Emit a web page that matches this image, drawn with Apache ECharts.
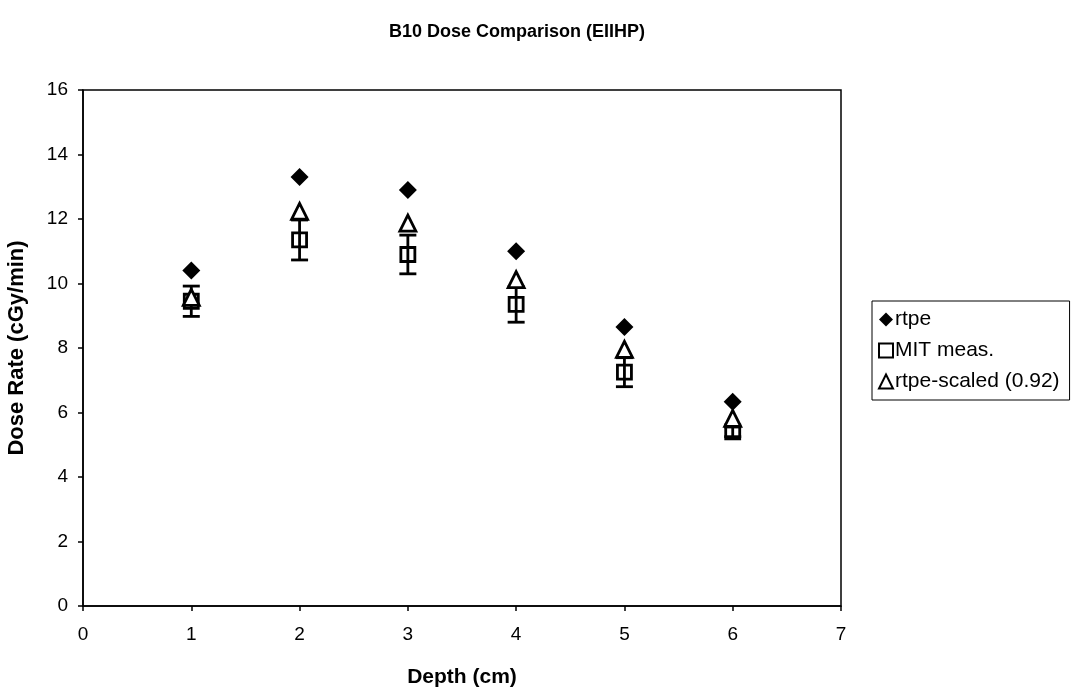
<!DOCTYPE html>
<html>
<head>
<meta charset="utf-8">
<title>B10 Dose Comparison (EIIHP)</title>
<script src="https://cdn.jsdelivr.net/npm/echarts@6/dist/echarts.min.js"></script>
<style>
  html, body { margin: 0; padding: 0; background: #fff; }
  #chart { width: 1072px; height: 692px; }
</style>
</head>
<body>
<div id="chart"></div>
<script>
// Depth positions (cm)
const depths = [1, 2, 3, 4, 5, 6];
// Calculated dose rate (cGy/min)
const rtpe = [10.4, 13.3, 12.9, 11.0, 8.65, 6.33];
// Measured dose rate and its uncertainty (cGy/min)
const mitMeas = [9.45, 11.35, 10.9, 9.35, 7.25, 5.4];
const mitErr = [0.47, 0.62, 0.6, 0.55, 0.45, 0.15];
// Calculated dose rate after scaling
const rtpeScaled = [9.57, 12.24, 11.87, 10.12, 7.96, 5.82];

const pair = (xs, ys) => xs.map((x, i) => [x, ys[i]]);
const errData = depths.map((x, i) => [x, mitMeas[i] - mitErr[i], mitMeas[i] + mitErr[i]]);

const font = 'Liberation Sans, Arial, Helvetica, sans-serif';
const chart = echarts.init(document.getElementById('chart'), null, { renderer: 'canvas' });

chart.setOption({
  animation: false,
  backgroundColor: '#fff',
  title: {
    text: 'B10 Dose Comparison (EIIHP)',
    left: 512, top: 18, textAlign: 'center',
    textStyle: { fontFamily: font, fontSize: 18, fontWeight: 'bold', color: '#000' }
  },
  grid: {
    left: 83, right: 231, top: 90, bottom: 86,
    containLabel: false, outerBoundsMode: 'none',
    show: true, borderColor: '#000', borderWidth: 1.5, backgroundColor: '#fff'
  },
  xAxis: {
    type: 'value', min: 0, max: 7, interval: 1,
    name: 'Depth (cm)', nameLocation: 'middle', nameGap: 61,
    nameTextStyle: { fontFamily: font, fontSize: 21, fontWeight: 'bold', color: '#000' },
    axisLine: { lineStyle: { color: '#000', width: 1.5 } },
    axisTick: { show: true, length: 5, lineStyle: { color: '#000', width: 1.5 } },
    axisLabel: { fontFamily: font, fontSize: 19, color: '#000', margin: 19 },
    splitLine: { show: false }
  },
  yAxis: {
    type: 'value', min: 0, max: 16, interval: 2,
    name: 'Dose Rate (cGy/min)', nameLocation: 'middle', nameGap: 55,
    nameTextStyle: { fontFamily: font, fontSize: 22, fontWeight: 'bold', color: '#000' },
    axisLine: { show: true, lineStyle: { color: '#000', width: 1.5 } },
    axisTick: { show: true, length: 5, lineStyle: { color: '#000', width: 1.5 } },
    axisLabel: { fontFamily: font, fontSize: 19, color: '#000', margin: 15 },
    splitLine: { show: false }
  },
  legend: {
    orient: 'vertical', left: 872, top: 301,
    padding: [8, 10, 8, 6], itemGap: 10,
    itemWidth: 14, itemHeight: 14,
    borderColor: '#000', borderWidth: 1, backgroundColor: '#fff',
    textStyle: { fontFamily: font, fontSize: 21, lineHeight: 20, color: '#000', padding: [0, 0, 0, -3] },
    data: ['rtpe', 'MIT meas.', 'rtpe-scaled (0.92)']
  },
  series: [
    {
      name: 'MIT error',
      type: 'custom',
      data: errData,
      encode: { x: 0, y: [1, 2] },
      z: 2,
      renderItem: function (params, api) {
        const x = api.value(0);
        const lo = api.coord([x, api.value(1)]);
        const hi = api.coord([x, api.value(2)]);
        const half = 8.5;
        const st = { stroke: '#000', lineWidth: 2.8 };
        return {
          type: 'group',
          children: [
            { type: 'line', shape: { x1: lo[0], y1: lo[1], x2: hi[0], y2: hi[1] }, style: st },
            { type: 'line', shape: { x1: lo[0] - half, y1: lo[1], x2: lo[0] + half, y2: lo[1] }, style: st },
            { type: 'line', shape: { x1: hi[0] - half, y1: hi[1], x2: hi[0] + half, y2: hi[1] }, style: st }
          ]
        };
      }
    },
    {
      name: 'rtpe',
      type: 'scatter',
      symbol: 'diamond',
      symbolSize: 18,
      data: pair(depths, rtpe),
      itemStyle: { color: '#000', opacity: 1 },
      z: 3
    },
    {
      name: 'MIT meas.',
      type: 'scatter',
      symbol: 'rect',
      symbolSize: 14,
      data: pair(depths, mitMeas),
      itemStyle: { color: 'rgba(255,255,255,0)', borderColor: '#000', borderWidth: 2.8, opacity: 1 },
      z: 4
    },
    {
      name: 'rtpe-scaled (0.92)',
      type: 'scatter',
      symbol: 'triangle',
      symbolSize: [16, 16],
      data: pair(depths, rtpeScaled),
      itemStyle: { color: '#fff', borderColor: '#000', borderWidth: 2.8, opacity: 1 },
      z: 5
    }
  ]
});
</script>
</body>
</html>
